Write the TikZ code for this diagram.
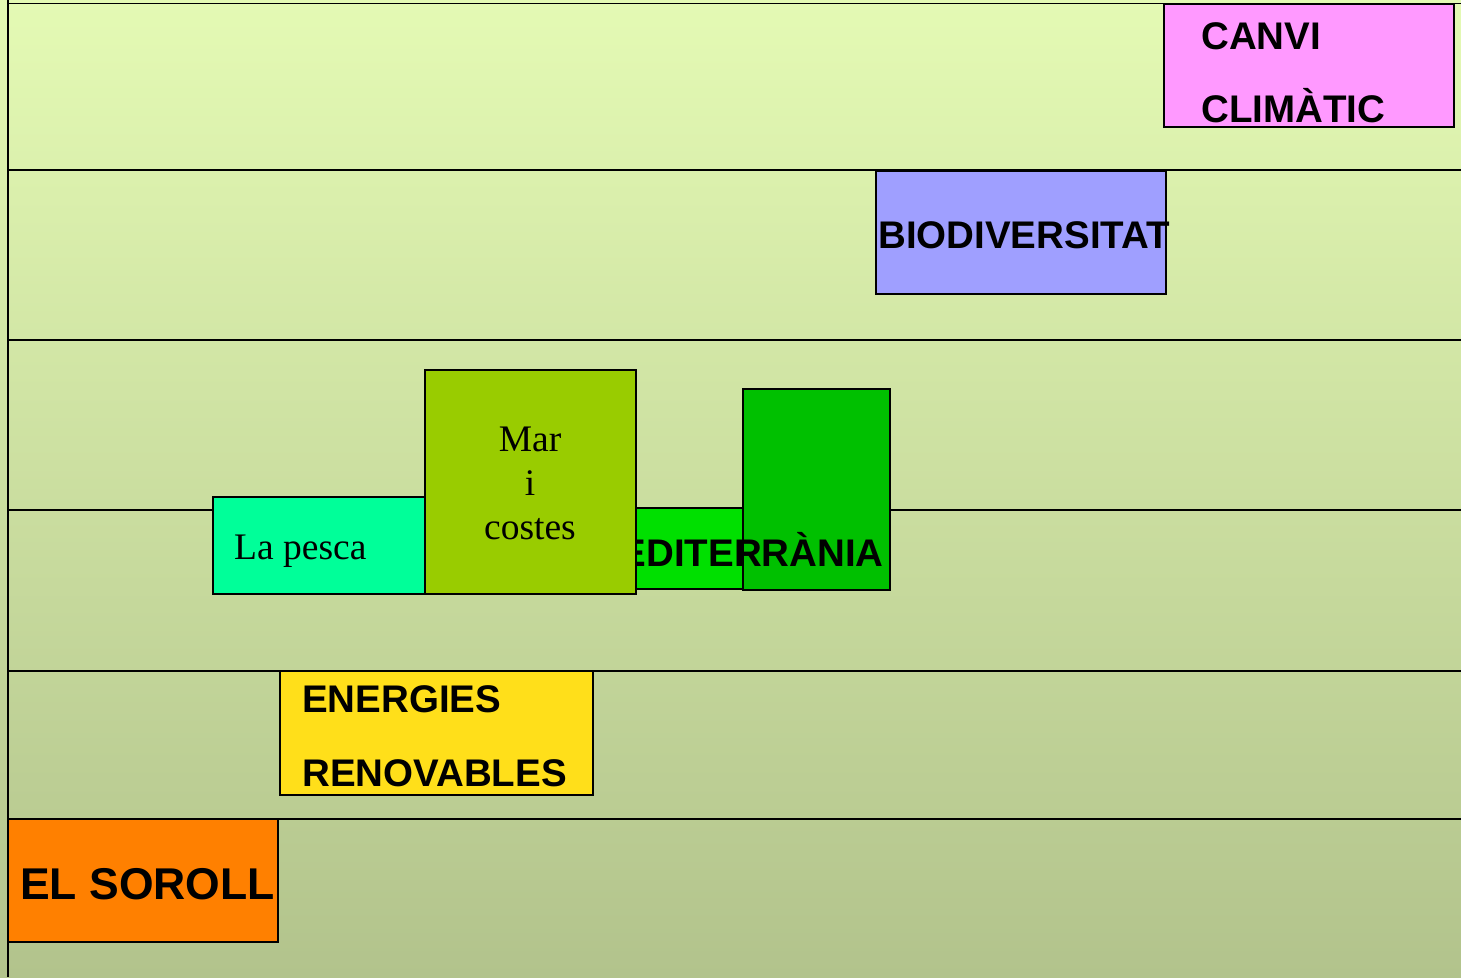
\documentclass[tikz,border=0pt]{standalone}
\usepackage{fontspec}
\setmainfont{Liberation Serif}
\newfontfamily\arialb{Liberation Sans}[BoldFont={* Bold}]
\definecolor{bgtop}{HTML}{E4FAB4}
\definecolor{bgbot}{HTML}{B2C38C}
\definecolor{cpink}{HTML}{FF99FF}
\definecolor{clav}{HTML}{9F9FFF}
\definecolor{cyel}{HTML}{FFDF1A}
\definecolor{corange}{HTML}{FF8000}
\definecolor{cmint}{HTML}{00FF99}
\definecolor{colive}{HTML}{99CC00}
\definecolor{cgreen}{HTML}{00E000}
\definecolor{cdgreen}{HTML}{00C000}
\tikzset{
  box/.style={draw=black, line width=1.6pt, rectangle, inner sep=0pt, outer sep=0pt},
  rule/.style={draw=black, line width=1.6pt},
  sanslbl/.style={anchor=base west, inner sep=0pt, font=\arialb\bfseries\fontsize{38.5}{44}\selectfont},
  seriflbl/.style={anchor=base, inner sep=0pt, font=\fontsize{37.5}{44}\selectfont},
}
\begin{document}
\begin{tikzpicture}[x=1pt,y=-1pt]
\useasboundingbox (0,0) rectangle (1461,977);
\shade[top color=bgtop, bottom color=bgbot] (0,0) rectangle (1461,977);
% horizontal rules
\foreach \yy/\nm in {3.5/ra,170/rb,340/rc,510/rd,671/re,819/rf}{
  \coordinate (\nm l) at (9,\yy);
  \coordinate (\nm r) at (1461,\yy);
  \draw[rule] (\nm l) -- (\nm r);
}
\coordinate (vt) at (8,0);
\coordinate (vb) at (8,977);
\draw[rule] (vt) -- (vb);
% boxes
\node[box, fill=cpink, minimum width=290, minimum height=123] (canvi) at (1309,65.5) {};
\node[box, fill=clav, minimum width=290, minimum height=123] (bio) at (1021,232.5) {};
\node[box, fill=cyel, minimum width=313, minimum height=124] (ener) at (436.5,733) {};
\node[box, fill=corange, minimum width=270, minimum height=123] (soroll) at (143,880.5) {};
\node[box, fill=cgreen, minimum width=107, minimum height=81] (medl) at (689.5,548.5) {};
\node[box, fill=cdgreen, minimum width=147, minimum height=201] (medd) at (816.5,489.5) {};
\node[sanslbl, anchor=base east] (medt) at (884,566) {MEDITERRÀNIA};
\node[box, fill=cmint, minimum width=212, minimum height=97] (pesca) at (319,545.5) {};
\node[box, fill=colive, minimum width=211, minimum height=224] (mar) at (530.5,482) {};
% texts
\node[sanslbl] (canvit1) at (1201,49) {CANVI};
\node[sanslbl] (canvit2) at (1201,122) {CLIMÀTIC};
\node[sanslbl] (biot) at (878,248) {BIODIVERSITAT};
\node[sanslbl] (enert1) at (302,712) {ENERGIES};
\node[sanslbl] (enert2) at (302,786) {RENOVABLES};
\node[sanslbl, font=\arialb\bfseries\fontsize{44.5}{50}\selectfont] (sorollt) at (20,899) {EL SOROLL};
\node[seriflbl, anchor=base west] (pescat) at (234,559) {La pesca};
\node[seriflbl] (mart1) at (530,451) {Mar};
\node[seriflbl] (mart2) at (530,495) {i};
\node[seriflbl] (mart3) at (530,539) {costes};
\end{tikzpicture}
\end{document}
